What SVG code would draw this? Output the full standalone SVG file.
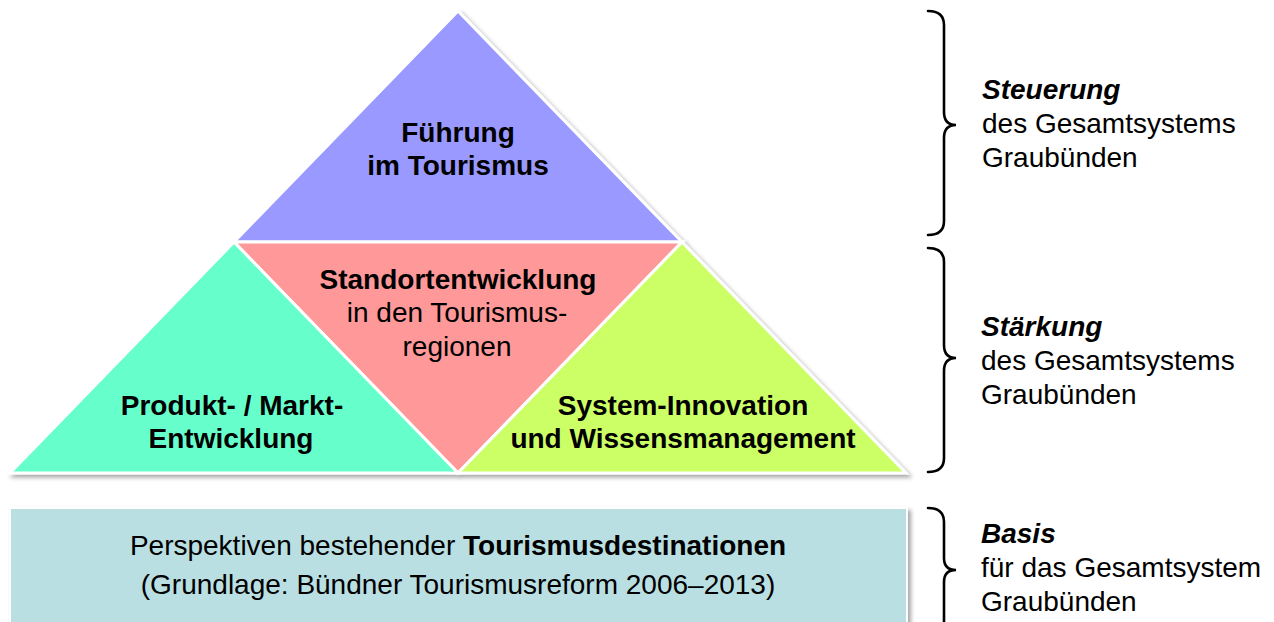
<svg xmlns="http://www.w3.org/2000/svg" width="1274" height="622" viewBox="0 0 1274 622">
  <defs>
    <filter id="shadow" x="-5%" y="-5%" width="115%" height="115%">
      <feDropShadow dx="3" dy="3" stdDeviation="2" flood-color="#000" flood-opacity="0.35"/>
    </filter>
    <style>
      .piece { stroke: #ffffff; stroke-width: 3; stroke-linejoin: miter; }
      .t { font-family: "Liberation Sans", Arial, sans-serif; font-size: 28px; fill: #000; }
      .b { font-weight: bold; }
      .mid { text-anchor: middle; }
      .bi { font-weight: bold; font-style: italic; }
      .brace { fill: none; stroke: #000; stroke-width: 2.6; stroke-linecap: round; }
    </style>
  </defs>
  <rect width="1274" height="622" fill="#ffffff"/>

  <!-- pyramid -->
  <g filter="url(#shadow)">
    <g id="fuehrung">
      <polygon class="piece" points="458,11 682,242 234,242" fill="#9999ff"/>
    </g>
    <g id="standort">
      <polygon class="piece" points="234,242 682,242 458,473" fill="#ff9999"/>
    </g>
    <g id="produkt">
      <polygon class="piece" points="234,242 458,473 10,473" fill="#66ffcc"/>
    </g>
    <g id="system">
      <polygon class="piece" points="682,242 906,473 458,473" fill="#ccff66"/>
    </g>
  </g>

  <g id="fuehrung-label">
    <text class="t b mid" x="458" y="142">Führung</text>
    <text class="t b mid" x="458" y="175">im Tourismus</text>
  </g>
  <g id="standort-label">
    <text class="t b mid" x="458" y="289">Standortentwicklung</text>
    <text class="t mid" x="457" y="322">in den Tourismus-</text>
    <text class="t mid" x="457" y="356">regionen</text>
  </g>
  <g id="produkt-label">
    <text class="t b mid" x="232" y="415">Produkt- / Markt-</text>
    <text class="t b mid" x="231" y="448">Entwicklung</text>
  </g>
  <g id="system-label">
    <text class="t b mid" x="683" y="415">System-Innovation</text>
    <text class="t b mid" x="683" y="448">und Wissensmanagement</text>
  </g>

  <!-- base block -->
  <g id="basis-block">
    <rect x="10" y="508" width="897" height="130" fill="#b9dfe2" stroke="#ffffff" stroke-width="2" filter="url(#shadow)"/>
    <text class="t mid" x="458" y="555">Perspektiven bestehender <tspan class="b">Tourismusdestinationen</tspan></text>
    <text class="t mid" x="458" y="594">(Grundlage: Bündner Tourismusreform 2006–2013)</text>
  </g>

  <!-- braces -->
  <g id="connectors">
    <path class="brace" d="M928,11 Q944,11 944,25 L944,112 Q944,125 956,125 Q944,125 944,138 L944,221 Q944,235 928,235"/>
    <path class="brace" d="M928,248 Q944,248 944,262 L944,345 Q944,358 956,358 Q944,358 944,371 L944,458 Q944,472 928,472"/>
    <path class="brace" d="M928,508 Q944,508 944,522 L944,558 Q944,570 956,570 Q944,570 944,582 L944,640"/>
  </g>

  <g id="steuerung">
    <text class="t bi" x="982" y="99">Steuerung</text>
    <text class="t" x="982" y="133">des Gesamtsystems</text>
    <text class="t" x="982" y="167">Graubünden</text>
  </g>
  <g id="staerkung">
    <text class="t bi" x="981" y="336">Stärkung</text>
    <text class="t" x="981" y="370">des Gesamtsystems</text>
    <text class="t" x="981" y="404">Graubünden</text>
  </g>
  <g id="basis">
    <text class="t bi" x="981" y="543">Basis</text>
    <text class="t" x="981" y="577">für das Gesamtsystem</text>
    <text class="t" x="981" y="611">Graubünden</text>
  </g>
</svg>
